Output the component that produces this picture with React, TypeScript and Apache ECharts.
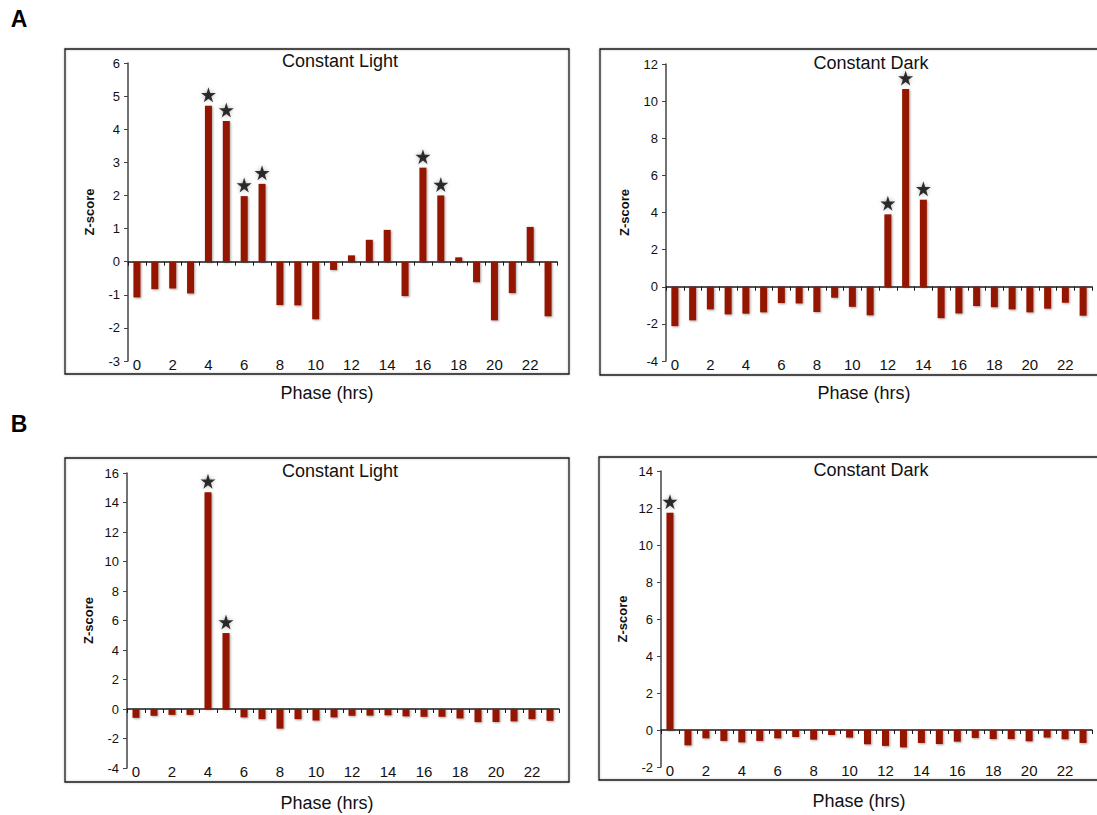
import React, { useEffect, useRef } from "react";
import * as echarts from "echarts";

const phases = Array.from({ length: 24 }, (_, i) => String(i));

const lightA = [-1.08, -0.83, -0.81, -0.96, 4.71, 4.25, 1.98, 2.35, -1.31, -1.32, -1.74, -0.25, 0.19, 0.66, 0.96, -1.04, 2.84, 2.0, 0.13, -0.62, -1.77, -0.95, 1.05, -1.65];
const darkA = [-2.12, -1.81, -1.22, -1.49, -1.45, -1.38, -0.88, -0.9, -1.36, -0.59, -1.08, -1.54, 3.9, 10.65, 4.69, -1.69, -1.44, -1.04, -1.1, -1.22, -1.38, -1.18, -0.86, -1.56];
const lightB = [-0.6, -0.46, -0.4, -0.4, 14.7, 5.15, -0.57, -0.69, -1.33, -0.69, -0.78, -0.57, -0.46, -0.45, -0.43, -0.5, -0.53, -0.53, -0.64, -0.89, -0.88, -0.84, -0.69, -0.8];
const darkB = [11.75, -0.83, -0.45, -0.59, -0.67, -0.59, -0.45, -0.38, -0.52, -0.27, -0.41, -0.77, -0.86, -0.94, -0.7, -0.76, -0.63, -0.43, -0.49, -0.49, -0.61, -0.41, -0.5, -0.7];

const starsLightA = [4, 5, 6, 7, 16, 17];
const starsDarkA = [12, 13, 14];
const starsLightB = [4, 5];
const starsDarkB = [0];

const yMin = [-3, -4, -4, -2];
const yMax = [6, 12, 16, 14];
const yStep = [1, 2, 2, 2];

const titles = ["Constant Light", "Constant Dark", "Constant Light", "Constant Dark"];
const xTitle = "Phase (hrs)";
const yTitle = "Z-score";

const STAR =
  "path://M50,2 L61.23,36.55 L97.55,36.55 L68.17,57.9 L79.39,92.45 L50,71.1 L20.61,92.45 L31.83,57.9 L2.45,36.55 L38.77,36.55 Z";

const FONT = "'Liberation Sans', Arial, Helvetica, sans-serif";
const BAR = "#941500";

export default function App() {
  const ref = useRef<HTMLDivElement>(null);

  useEffect(() => {
    if (!ref.current) return;
    const chart = echarts.init(ref.current, undefined, { renderer: "svg" });

    const grids = [
      { left: 128, top: 63, width: 429, height: 298 },
      { left: 666, top: 64, width: 426, height: 297 },
      { left: 127, top: 473, width: 432, height: 295 },
      { left: 661, top: 471, width: 431, height: 296 },
    ];
    const nameGaps = [32, 35, 32, 32];
    const values = [lightA, darkA, lightB, darkB];
    const stars = [starsLightA, starsDarkA, starsLightB, starsDarkB];

    const xAxes: any[] = [];
    const yAxes: any[] = [];
    const series: any[] = [];
    grids.forEach((g, i) => {
      xAxes.push({
        type: "category",
        gridIndex: i,
        position: "bottom",
        data: phases,
        axisLine: { show: true, onZero: true, lineStyle: { color: "#1a1a1a", width: 1.5 } },
        axisTick: { show: true, interval: 0, length: 4, lineStyle: { color: "#1a1a1a" } },
        axisLabel: { show: false },
        splitLine: { show: false },
      });
      xAxes.push({
        type: "category",
        gridIndex: i,
        position: "bottom",
        data: phases,
        axisLine: { show: false, onZero: false },
        axisTick: { show: false },
        axisLabel: { show: true, interval: 1, margin: -4, fontSize: 15, color: "#111", fontFamily: FONT },
        splitLine: { show: false },
      });
      yAxes.push({
        type: "value",
        gridIndex: i,
        min: yMin[i],
        max: yMax[i],
        interval: yStep[i],
        name: yTitle,
        nameLocation: "middle",
        nameGap: nameGaps[i],
        nameTextStyle: { fontSize: 13, fontWeight: "bold", color: "#111", fontFamily: FONT },
        axisLine: { show: true, lineStyle: { color: "#444", width: 1.5 } },
        axisTick: { show: true, length: 4, lineStyle: { color: "#444" } },
        axisLabel: { fontSize: 13, color: "#111", margin: 8, fontFamily: FONT },
        splitLine: { show: false },
      });
      series.push({
        type: "bar",
        xAxisIndex: i * 2,
        yAxisIndex: i,
        data: values[i],
        barWidth: 7,
        itemStyle: {
          color: BAR,
          shadowBlur: 2,
          shadowColor: "rgba(0,0,0,0.35)",
          shadowOffsetX: 1,
          shadowOffsetY: 1,
        },
      });
      series.push({
        type: "scatter",
        xAxisIndex: i * 2,
        yAxisIndex: i,
        data: stars[i].map((k) => [k, values[i][k]]),
        symbol: STAR,
        symbolSize: 15,
        symbolOffset: [0, -11],
        itemStyle: { color: "#000", shadowBlur: 4, shadowColor: "rgba(0,0,0,0.35)" },
        z: 5,
      });
    });

    const boxes = [
      { x: 65, y: 49, width: 504, height: 325 },
      { x: 600, y: 49, width: 510, height: 326 },
      { x: 65, y: 458, width: 504, height: 324 },
      { x: 599, y: 457, width: 510, height: 323 },
    ];
    const titlePos = [
      [340, 61],
      [871, 63],
      [340, 471],
      [871, 470],
    ];
    const xTitlePos = [
      [327, 393],
      [864, 393],
      [327, 803],
      [859, 801],
    ];

    const graphic: any[] = [];
    boxes.forEach((b) => {
      graphic.push({
        type: "rect",
        shape: b,
        style: { fill: "none", stroke: "#1a1a1a", lineWidth: 1.3, shadowBlur: 2, shadowColor: "rgba(0,0,0,0.3)" },
        silent: true,
      });
    });
    titlePos.forEach((p, i) => {
      graphic.push({
        type: "text",
        x: p[0],
        y: p[1],
        style: { text: titles[i], fontSize: 18, fontFamily: FONT, fill: "#111", textAlign: "center", textVerticalAlign: "middle" },
      });
    });
    xTitlePos.forEach((p) => {
      graphic.push({
        type: "text",
        x: p[0],
        y: p[1],
        style: { text: xTitle, fontSize: 18, fontFamily: FONT, fill: "#111", textAlign: "center", textVerticalAlign: "middle" },
      });
    });
    graphic.push({
      type: "text",
      x: 19,
      y: 19,
      style: { text: "A", fontSize: 23, fontWeight: "bold", fontFamily: FONT, fill: "#000", textAlign: "center", textVerticalAlign: "middle" },
    });
    graphic.push({
      type: "text",
      x: 19,
      y: 424,
      style: { text: "B", fontSize: 23, fontWeight: "bold", fontFamily: FONT, fill: "#000", textAlign: "center", textVerticalAlign: "middle" },
    });

    chart.setOption({
      animation: false,
      backgroundColor: "#fff",
      textStyle: { fontFamily: FONT },
      grid: grids,
      xAxis: xAxes,
      yAxis: yAxes,
      series,
      graphic,
    });

    return () => chart.dispose();
  }, []);

  return (
    <div
      ref={ref}
      style={{ position: "fixed", left: 0, top: 0, width: 1097, height: 815, background: "#fff" }}
    />
  );
}
